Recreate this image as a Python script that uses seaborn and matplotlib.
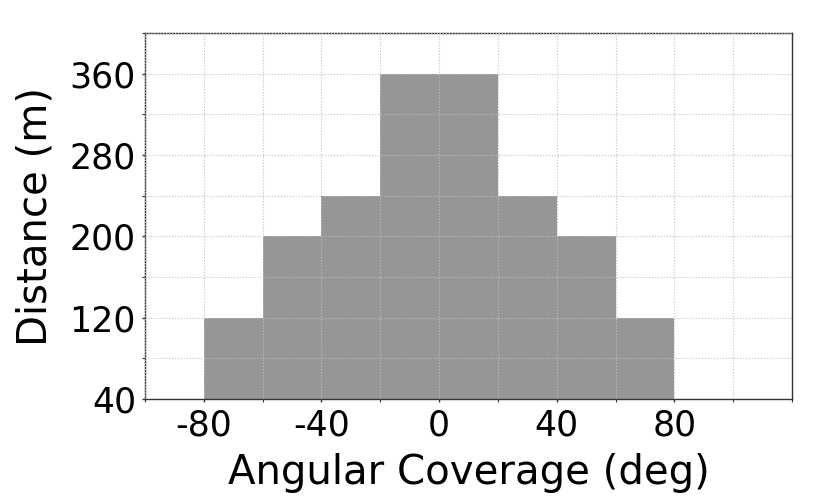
import numpy as np
import pandas as pd
import matplotlib
matplotlib.use("Agg")
import matplotlib.pyplot as plt
import seaborn as sns
from matplotlib.ticker import MultipleLocator

# Data: max detection distance per 20-degree angular sector
bin_edges = [-80, -60, -40, -20, 0, 20, 40, 60, 80]
bin_centers = [-70, -50, -30, -10, 10, 30, 50, 70]
distances = [120, 200, 240, 360, 360, 240, 200, 120]

df = pd.DataFrame({'angle': bin_centers, 'distance': distances})

sns.set_style("white")
plt.rcParams['font.family'] = ['DejaVu Sans']
plt.rcParams['axes.unicode_minus'] = False
plt.rcParams['text.color'] = 'black'
plt.rcParams['axes.labelcolor'] = 'black'

fig = plt.figure(figsize=(8.3, 4.98), dpi=100)
ax = fig.add_axes([145 / 830, 1 - 399 / 498, (792 - 145) / 830, (399 - 33) / 498])

sns.histplot(data=df, x='angle', weights='distance', bins=bin_edges,
             color='#969696', alpha=1, linewidth=0, ax=ax)

ax.set_xlim(-100, 120)
ax.set_ylim(40, 400)
ax.set_xticks([-80, -40, 0, 40, 80])
ax.xaxis.set_minor_locator(MultipleLocator(20))
ax.set_yticks([40, 120, 200, 280, 360])
ax.yaxis.set_minor_locator(MultipleLocator(40))

ax.set_axisbelow(False)
ax.grid(True, which='both', linestyle=':', color='#bfbfbf', linewidth=0.8)

ax.tick_params(which='both', direction='out', colors='#333333', labelcolor='black',
               left=True, bottom=True)
ax.tick_params(which='major', length=2.5, width=1, labelsize=25, pad=4)
ax.tick_params(which='minor', length=2, width=0.8)
for s in ax.spines.values():
    s.set_color('#333333')
    s.set_linewidth(1)

ax.set_xlabel("Angular Coverage (deg)", fontsize=29, labelpad=8)
ax.set_ylabel("Distance (m)", fontsize=29, labelpad=10)

fig.savefig("out.png", dpi=100)
